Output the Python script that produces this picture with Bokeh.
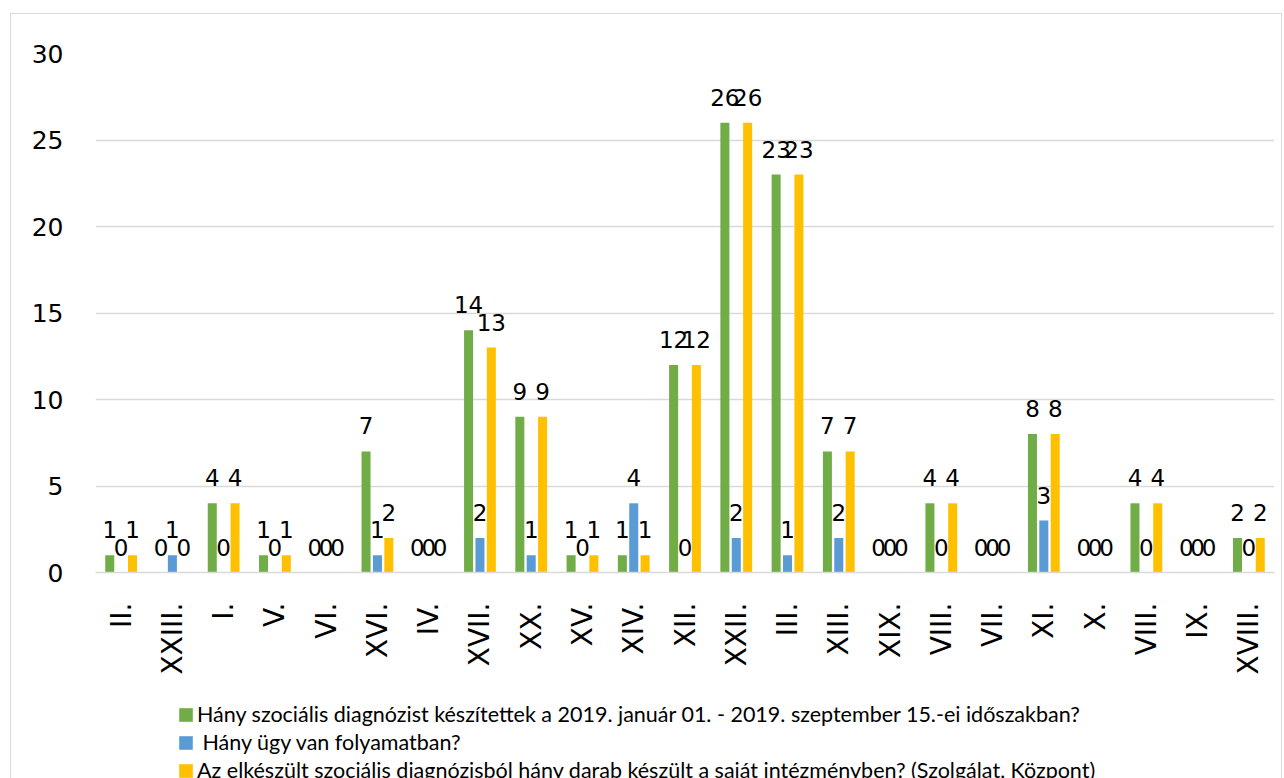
import math
from bokeh.plotting import figure
from bokeh.layouts import column
from bokeh.models import ColumnDataSource, FixedTicker, Range1d, LabelSet, Legend, LegendItem
from bokeh.transform import dodge
from bokeh.core.properties import value
from bokeh.embed import file_html
from bokeh.resources import INLINE

# ---- data ----
districts = ["II.", "XXIII.", "I.", "V.", "VI.", "XVI.", "IV.", "XVII.", "XX.", "XV.",
             "XIV.", "XII.", "XXII.", "III.", "XIII.", "XIX.", "VIII.", "VII.", "XI.",
             "X.", "VIII.", "IX.", "XVIII."]
diagnoses = [1, 0, 4, 1, 0, 7, 0, 14, 9, 1, 1, 12, 26, 23, 7, 0, 4, 0, 8, 0, 4, 0, 2]
in_progress = [0, 1, 0, 0, 0, 1, 0, 2, 1, 0, 4, 0, 2, 1, 2, 0, 0, 0, 3, 0, 0, 0, 0]
own_institution = [1, 0, 4, 1, 0, 2, 0, 13, 9, 1, 1, 12, 26, 23, 7, 0, 4, 0, 8, 0, 4, 0, 2]
series_names = [
    "Hány szociális diagnózist készítettek a 2019. január 01. - 2019. szeptember 15.-ei időszakban?",
    " Hány ügy van folyamatban?",
    "Az elkészült szociális diagnózisból hány darab készült a saját intézményben? (Szolgálat, Központ)",
]
y_ticks = [0, 5, 10, 15, 20, 25, 30]

colors = ["#70AD47", "#5B9BD5", "#FFC000"]
offsets = [-0.222, 0.0, 0.222]
bar_width = 0.176

source = ColumnDataSource(dict(
    x=list(range(len(districts))),
    s0=diagnoses, s1=in_progress, s2=own_institution,
    l0=[str(v) for v in diagnoses],
    l1=[str(v) for v in in_progress],
    l2=[str(v) for v in own_institution],
))

# ---- main chart ----
p = figure(width=1270, height=678,
           x_range=Range1d(-0.5, len(districts) - 0.5),
           y_range=Range1d(0, 30),
           output_backend="svg", toolbar_location=None,
           min_border_left=84, min_border_right=7,
           min_border_top=39, min_border_bottom=120)
p.outline_line_color = None

for k in range(3):
    p.vbar(x=dodge("x", offsets[k]), top="s%d" % k, width=bar_width, source=source,
           fill_color=colors[k], line_color=None)
    labels = LabelSet(x=dodge("x", offsets[k]), y="s%d" % k, text="l%d" % k, source=source,
                      text_align="center", text_baseline="alphabetic", y_offset=17,
                      text_font=value("DejaVu Sans"), text_font_size="23px", text_color="#000000")
    p.add_layout(labels)

p.xaxis.ticker = FixedTicker(ticks=list(range(len(districts))))
p.xaxis.major_label_overrides = {i: d for i, d in enumerate(districts)}
p.xaxis.major_label_orientation = math.pi / 2
p.xaxis.major_label_text_font = "DejaVu Sans"
p.xaxis.major_label_text_font_size = "28px"
p.xaxis.major_label_text_color = "#000000"
p.xaxis.major_label_standoff = 30
p.xaxis.major_tick_out = 0
p.xaxis.major_tick_in = 0
p.xaxis.minor_tick_out = 0
p.xaxis.minor_tick_in = 0
p.xaxis.axis_line_color = "#d9d9d9"
p.xaxis.axis_line_width = 1.5

p.yaxis.ticker = FixedTicker(ticks=y_ticks)
p.yaxis.major_label_text_font = "DejaVu Sans"
p.yaxis.major_label_text_font_size = "25px"
p.yaxis.major_label_text_color = "#000000"
p.yaxis.major_label_standoff = 32
p.yaxis.major_tick_out = 0
p.yaxis.major_tick_in = 0
p.yaxis.minor_tick_out = 0
p.yaxis.minor_tick_in = 0
p.yaxis.axis_line_color = None

p.xgrid.visible = False
p.ygrid.ticker = FixedTicker(ticks=y_ticks)
p.ygrid.grid_line_color = "#d9d9d9"
p.ygrid.grid_line_width = 1.5

# ---- legend strip (swatches only, no data drawn here) ----
q = figure(width=1270, height=86, x_range=Range1d(0, 1), y_range=Range1d(0, 1),
           x_axis_type=None, y_axis_type=None,
           output_backend="svg", toolbar_location=None, min_border=0)
q.outline_line_color = None
q.grid.visible = False
legend_renderers = [q.vbar(x=[math.nan], top=[math.nan], width=0.1,
                           fill_color=colors[k], line_color=None)
                    for k in range(3)]
legend = Legend(items=[LegendItem(label=series_names[k], renderers=[legend_renderers[k]])
                       for k in range(3)],
                location=(82, -5), orientation="vertical",
                label_text_font="Lato", label_text_font_size="21.5px", label_text_color="#000000",
                glyph_width=17, glyph_height=17, label_standoff=3, spacing=2, label_height=26,
                padding=0, margin=0, border_line_color=None, background_fill_alpha=0)
q.add_layout(legend)

layout = column(p, q, spacing=0)
layout.margin = (13, 0, 0, 10)
layout.styles = {"border-top": "1px solid #d9d9d9",
                 "border-left": "1px solid #d9d9d9",
                 "border-right": "1px solid #d9d9d9"}

open("out.html", "w").write(file_html(layout, INLINE))
